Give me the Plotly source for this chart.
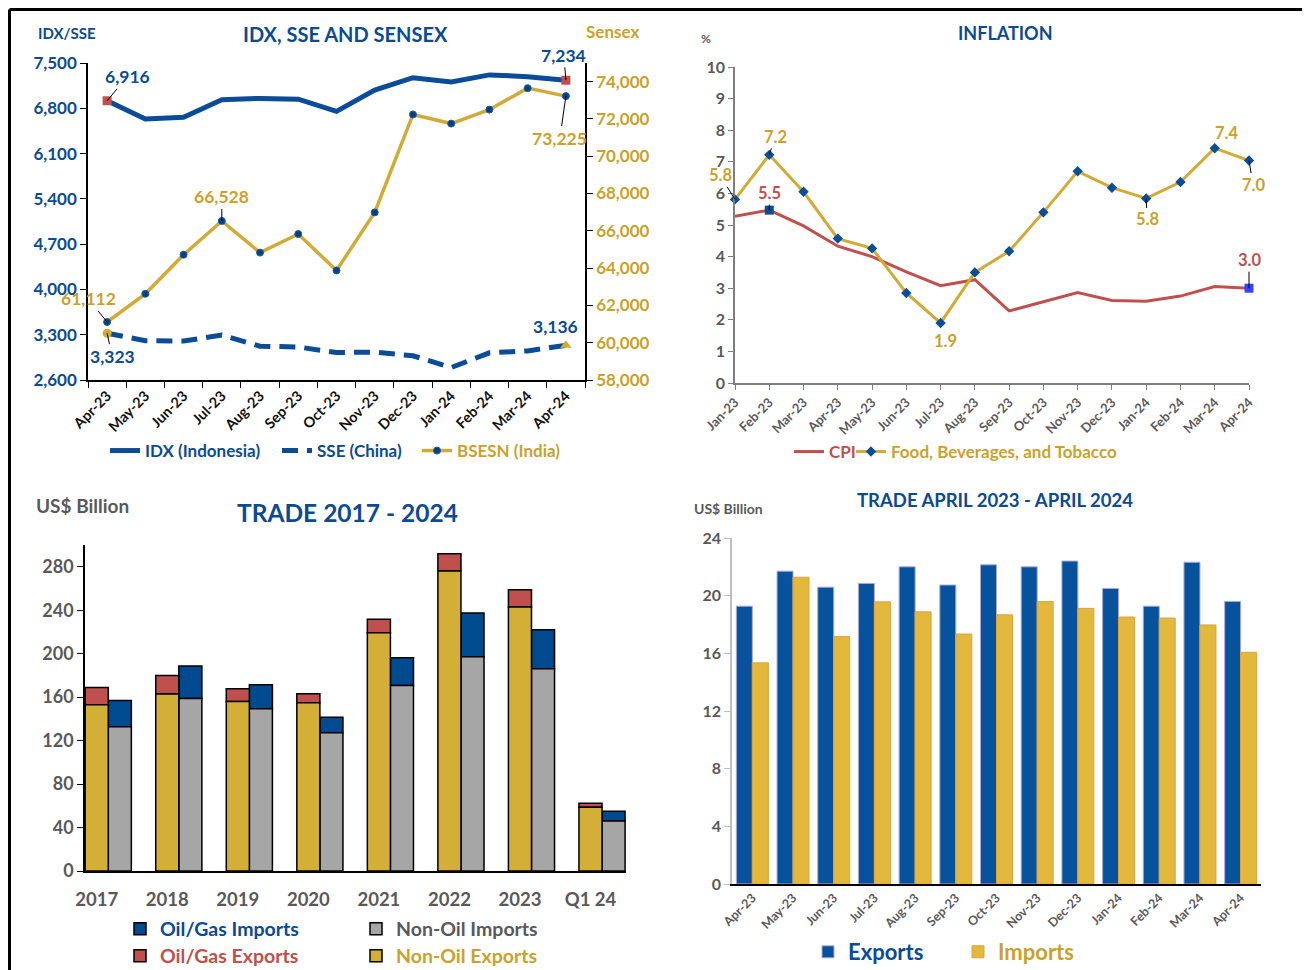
import plotly.graph_objects as go

# The page body has an 8px margin, so the figure is sized to fill the
# remaining window and positions below are given in window pixels.
OX, OY = 8, 8
W, H = 1302, 962
FONT = "Lato"

# ---------------- data ----------------
months1 = ["Apr-23", "May-23", "Jun-23", "Jul-23", "Aug-23", "Sep-23", "Oct-23",
           "Nov-23", "Dec-23", "Jan-24", "Feb-24", "Mar-24", "Apr-24"]
idx_vals = [6916, 6633, 6662, 6931, 6953, 6940, 6752, 7081, 7273, 7207, 7316, 7289, 7234]
sse_vals = [3323, 3207, 3202, 3294, 3123, 3110, 3025, 3030, 2975, 2792, 3020, 3050, 3136]
bsesn_vals = [61112, 62622, 64719, 66528, 64831, 65828, 63875, 66988, 72240, 71752, 72500, 73651, 73225]

months2 = ["Jan-23", "Feb-23", "Mar-23", "Apr-23", "May-23", "Jun-23", "Jul-23", "Aug-23",
           "Sep-23", "Oct-23", "Nov-23", "Dec-23", "Jan-24", "Feb-24", "Mar-24", "Apr-24"]
cpi_vals = [5.28, 5.47, 4.97, 4.33, 4.00, 3.52, 3.08, 3.27, 2.28, 2.56, 2.86, 2.61, 2.59, 2.75, 3.05, 3.00]
food_vals = [5.81, 7.22, 6.05, 4.57, 4.26, 2.85, 1.90, 3.50, 4.17, 5.40, 6.70, 6.18, 5.84, 6.36, 7.43, 7.04]

years = ["2017", "2018", "2019", "2020", "2021", "2022", "2023", "Q1 24"]
nonoil_exp = [153.1, 162.8, 155.9, 154.9, 219.3, 276.0, 242.9, 58.6]
oil_exp = [15.7, 17.2, 11.8, 8.3, 12.3, 16.0, 15.9, 3.8]
nonoil_imp = [132.7, 158.8, 149.4, 127.3, 170.7, 197.1, 186.1, 45.9]
oil_imp = [24.3, 29.9, 21.9, 14.3, 25.5, 40.4, 35.8, 9.0]

months4 = months1
exports_m = [19.27, 21.70, 20.59, 20.85, 22.00, 20.74, 22.14, 22.00, 22.40, 20.50, 19.27, 22.32, 19.60]
imports_m = [15.34, 21.28, 17.16, 19.57, 18.88, 17.34, 18.67, 19.59, 19.12, 18.52, 18.45, 17.97, 16.07]

# ---------------- colours ----------------
BLUE_T = "#0b4a94"
IDX_C = "#0a4c98"
GOLD = "#d2ab36"
GOLD_T = "#c9a22c"
NAVY_DOT = "#0b3f7a"
RED = "#c0504d"
GRAY_T = "#595959"
BAR_GOLD = "#d4af37"
BAR_RED = "#c0504d"
BAR_GRAY = "#a6a6a6"
BAR_BLUE = "#004a8f"
EXP_BLUE = "#07529d"
IMP_GOLD = "#e2b93d"


def px(x):
    return (x - OX) / W


def py(y):
    return 1 - (y - OY) / H


fig = go.Figure()

# ---------------- panel 1 ----------------
fig.add_trace(go.Scatter(x=months1, y=idx_vals, mode="lines", name="IDX (Indonesia)",
                         line=dict(color=IDX_C, width=5), xaxis="x", yaxis="y", legend="legend"))
fig.add_trace(go.Scatter(x=months1, y=sse_vals, mode="lines", name="SSE (China)",
                         line=dict(color=IDX_C, width=5, dash="16px,9px"), xaxis="x", yaxis="y",
                         legend="legend2"))
fig.add_trace(go.Scatter(x=months1, y=bsesn_vals, mode="lines+markers", name="BSESN (India)",
                         line=dict(color=GOLD, width=3.5),
                         marker=dict(color=NAVY_DOT, size=7, line=dict(color="#1a5fa8", width=1)),
                         xaxis="x", yaxis="y2", legend="legend3", cliponaxis=False))
fig.add_trace(go.Scatter(x=[months1[0], months1[-1]], y=[idx_vals[0], idx_vals[-1]], mode="markers",
                         marker=dict(symbol="square", color=RED, size=9), showlegend=False,
                         xaxis="x", yaxis="y", cliponaxis=False))
fig.add_trace(go.Scatter(x=[months1[0]], y=[sse_vals[0]], mode="markers",
                         marker=dict(symbol="circle", color=GOLD, size=9), showlegend=False,
                         xaxis="x", yaxis="y", cliponaxis=False))
fig.add_trace(go.Scatter(x=[months1[-1]], y=[sse_vals[-1]], mode="markers",
                         marker=dict(symbol="triangle-up", color=GOLD, size=10), showlegend=False,
                         xaxis="x", yaxis="y", cliponaxis=False))

# ---------------- panel 2 ----------------
fig.add_trace(go.Scatter(x=months2, y=cpi_vals, mode="lines", name="CPI",
                         line=dict(color=RED, width=3), xaxis="x2", yaxis="y3", legend="legend4"))
fig.add_trace(go.Scatter(x=months2, y=food_vals, mode="lines+markers", name="Food, Beverages, and Tobacco",
                         line=dict(color=GOLD, width=3),
                         marker=dict(symbol="diamond", color="#0a4f96", size=8),
                         xaxis="x2", yaxis="y3", legend="legend5", cliponaxis=False))
fig.add_trace(go.Scatter(x=[months2[1]], y=[cpi_vals[1]], mode="markers",
                         marker=dict(symbol="square", color="#0a4f96", size=9), showlegend=False,
                         xaxis="x2", yaxis="y3", cliponaxis=False))
fig.add_trace(go.Scatter(x=[months2[-1]], y=[cpi_vals[-1]], mode="markers",
                         marker=dict(symbol="square", color="#3344ff", size=9), showlegend=False,
                         xaxis="x2", yaxis="y3", cliponaxis=False))

# ---------------- panel 3 ----------------
bw3 = 0.327
xi3 = list(range(len(years)))
fig.add_trace(go.Bar(x=xi3, y=oil_imp, base=nonoil_imp, offset=0, width=bw3, name="Oil/Gas Imports",
                     marker=dict(color=BAR_BLUE, line=dict(color="black", width=1.5)),
                     xaxis="x3", yaxis="y4", legend="legend6"))
fig.add_trace(go.Bar(x=xi3, y=nonoil_imp, offset=0, width=bw3, name="Non-Oil Imports",
                     marker=dict(color=BAR_GRAY, line=dict(color="black", width=1.5)),
                     xaxis="x3", yaxis="y4", legend="legend7"))
fig.add_trace(go.Bar(x=xi3, y=oil_exp, base=nonoil_exp, offset=-bw3, width=bw3, name="Oil/Gas Exports",
                     marker=dict(color=BAR_RED, line=dict(color="black", width=1.5)),
                     xaxis="x3", yaxis="y4", legend="legend8"))
fig.add_trace(go.Bar(x=xi3, y=nonoil_exp, offset=-bw3, width=bw3, name="Non-Oil Exports",
                     marker=dict(color=BAR_GOLD, line=dict(color="black", width=1.5)),
                     xaxis="x3", yaxis="y4", legend="legend9"))

# ---------------- panel 4 ----------------
bw4 = 0.393
xi4 = list(range(len(months4)))
fig.add_trace(go.Bar(x=xi4, y=exports_m, offset=-bw4, width=bw4, name="Exports",
                     marker=dict(color=EXP_BLUE, line=dict(color="#a9a9d6", width=1)),
                     xaxis="x4", yaxis="y5", legend="legend10"))
fig.add_trace(go.Bar(x=xi4, y=imports_m, offset=0, width=bw4, name="Imports",
                     marker=dict(color=IMP_GOLD, line=dict(color="#e0a23a", width=1)),
                     xaxis="x4", yaxis="y5", legend="legend11"))

# ---------------- annotations ----------------
ann = []


def label(text, x, y, xref, yref, color, size, ax=None, ay=None, xs=0, ys=0):
    d = dict(text=text, x=x, y=y, xref=xref, yref=yref,
             font=dict(family=FONT, size=size, color=color, weight="bold"))
    if ax is None:
        d.update(showarrow=False, xshift=xs, yshift=ys)
    else:
        d.update(showarrow=True, arrowhead=0, arrowwidth=1, arrowcolor="black", ax=ax, ay=ay)
    ann.append(d)


def fmt(v):
    return f"{v:,.0f}"


# panel 1 labels
label(fmt(idx_vals[0]), months1[0], idx_vals[0], "x", "y", BLUE_T, 17.5, ax=20, ay=-24)
label(fmt(idx_vals[-1]), months1[-1], idx_vals[-1], "x", "y", BLUE_T, 17.5, ax=-2, ay=-25)
label(fmt(bsesn_vals[-1]), months1[-1], bsesn_vals[-1], "x", "y2", GOLD_T, 17.5, ax=-6, ay=42)
label(fmt(bsesn_vals[3]), months1[3], bsesn_vals[3], "x", "y2", GOLD_T, 17.5, ax=0, ay=-24)
label(fmt(bsesn_vals[0]), months1[0], bsesn_vals[0], "x", "y2", GOLD_T, 17.5, ax=-19, ay=-23)
label(fmt(sse_vals[0]), months1[0], sse_vals[0], "x", "y", BLUE_T, 17.5, ax=5, ay=23)
label(fmt(sse_vals[-1]), months1[-1], sse_vals[-1], "x", "y", BLUE_T, 17.5, xs=-10, ys=19)

# panel 2 labels
label(f"{food_vals[0]:.1f}", months2[0], food_vals[0], "x2", "y3", GOLD_T, 16.5, ax=-15, ay=-24)
label(f"{food_vals[1]:.1f}", months2[1], food_vals[1], "x2", "y3", GOLD_T, 16.5, ax=6, ay=-18)
label(f"{cpi_vals[1]:.1f}", months2[1], cpi_vals[1], "x2", "y3", RED, 16.5, ax=0, ay=-17)
label(f"{food_vals[6]:.1f}", months2[6], food_vals[6], "x2", "y3", GOLD_T, 16.5, xs=5, ys=-18)
label(f"{food_vals[12]:.1f}", months2[12], food_vals[12], "x2", "y3", GOLD_T, 16.5, ax=1, ay=21)
label(f"{food_vals[14]:.1f}", months2[14], food_vals[14], "x2", "y3", GOLD_T, 16.5, xs=12, ys=15)
label(f"{food_vals[15]:.1f}", months2[15], food_vals[15], "x2", "y3", GOLD_T, 16.5, ax=4, ay=24)
label(f"{cpi_vals[15]:.1f}", months2[15], cpi_vals[15], "x2", "y3", RED, 16.5, ax=0, ay=-28)


def ptext(text, x, y, color, size, xanchor="center"):
    ann.append(dict(text=text, x=px(x), y=py(y), xref="paper", yref="paper", showarrow=False,
                    xanchor=xanchor, yanchor="middle",
                    font=dict(family=FONT, size=size, color=color, weight="bold")))


ptext("IDX, SSE AND SENSEX", 345, 34, BLUE_T, 20)
ptext("IDX/SSE", 67, 33, BLUE_T, 15)
ptext("Sensex", 612, 31, GOLD_T, 17)
ptext("INFLATION", 1005, 33, BLUE_T, 18)
ptext("%", 706, 38, GRAY_T, 12)
ptext("TRADE 2017 - 2024", 347, 512, BLUE_T, 24.5)
ptext("US$ Billion", 82, 505, GRAY_T, 19)
ptext("TRADE APRIL 2023 - APRIL 2024", 995, 500, BLUE_T, 18.5)
ptext("US$ Billion", 728, 508, GRAY_T, 14)

# ---------------- layout ----------------
def lfont(color, size):
    return dict(family=FONT, size=size, color=color, weight="bold")


def legend_at(x, y, color, size):
    return dict(x=px(x), y=py(y), xanchor="left", yanchor="middle", orientation="h",
                font=lfont(color, size), bgcolor="rgba(0,0,0,0)", borderwidth=0,
                tracegroupgap=0, itemclick=False)


axis_common = dict(showgrid=False, zeroline=False)

fig.update_layout(
    width=W, height=H, margin=dict(l=0, r=0, t=0, b=0, autoexpand=False),
    paper_bgcolor="white", plot_bgcolor="white",
    barmode="overlay",
    font=dict(family=FONT),
    xaxis=dict(domain=[px(88), px(585)], anchor="y", type="category", range=[-0.5, 12.5],
               tickson="boundaries", ticks="outside", ticklen=6, tickcolor="black",
               showline=True, linecolor="black", linewidth=1.5, tickangle=-45,
               tickfont=lfont("#111111", 14.5), **axis_common),
    yaxis=dict(domain=[py(380), py(63)], anchor="x", range=[2600, 7500], tick0=2600, dtick=700,
               tickformat=",", ticks="outside", ticklen=6, tickcolor="black",
               showline=True, linecolor="black", linewidth=1.5,
               tickfont=lfont(BLUE_T, 17), **axis_common),
    yaxis2=dict(overlaying="y", side="right", anchor="x", range=[58000, 75000], tick0=58000, dtick=2000,
                tickformat=",", ticks="outside", ticklen=6, tickcolor="black",
                showline=True, linecolor="black", linewidth=1.5,
                tickfont=lfont(GOLD_T, 17), **axis_common),
    xaxis2=dict(domain=[px(735), px(1249)], anchor="y3", type="category", range=[0, 15],
                ticks="outside", ticklen=5, tickcolor="#7f7f7f",
                showline=True, linecolor="#7f7f7f", linewidth=1.5, tickangle=-45,
                tickfont=lfont(GRAY_T, 13), **axis_common),
    yaxis3=dict(domain=[py(383), py(67)], anchor="x2", range=[0, 10], dtick=1,
                ticks="outside", ticklen=5, tickcolor="#7f7f7f",
                showline=True, linecolor="#7f7f7f", linewidth=1.5,
                tickfont=lfont(GRAY_T, 16), **axis_common),
    xaxis3=dict(domain=[px(85), px(626)], anchor="y4", range=[-0.33, 7.34],
                tickvals=[i - bw3 / 2 for i in xi3], ticktext=years, ticks="",
                ticklabelstandoff=11,
                showline=True, linecolor="black", linewidth=2,
                tickfont=lfont(GRAY_T, 18.5), **axis_common),
    yaxis4=dict(domain=[py(871), py(545)], anchor="x3", range=[0, 300],
                tickvals=[0, 40, 80, 120, 160, 200, 240, 280],
                ticks="outside", ticklen=6, tickcolor="black",
                showline=True, linecolor="black", linewidth=1.5,
                tickfont=lfont(GRAY_T, 18), **axis_common),
    xaxis4=dict(domain=[px(732), px(1261)], anchor="y5", range=[-0.5, 12.5],
                tickvals=xi4, ticktext=months4, ticks="", tickangle=-45,
                showline=True, linecolor="black", linewidth=1.5,
                tickfont=lfont(GRAY_T, 12.5), **axis_common),
    yaxis5=dict(domain=[py(884), py(538)], anchor="x4", range=[0, 24], dtick=4,
                ticks="outside", ticklen=6, tickcolor="#bfbfbf",
                showline=True, linecolor="#bfbfbf", linewidth=1.5,
                tickfont=lfont(GRAY_T, 16), **axis_common),
    legend=legend_at(105, 451, BLUE_T, 17),
    legend2=legend_at(277, 451, BLUE_T, 17),
    legend3=legend_at(417, 451, GOLD_T, 17),
    legend4=legend_at(789, 452, RED, 17),
    legend5=legend_at(851, 452, GOLD_T, 17),
    legend6=legend_at(120, 929, BLUE_T, 19.5),
    legend7=legend_at(356, 929, GRAY_T, 19.5),
    legend8=legend_at(120, 956, RED, 19.5),
    legend9=legend_at(356, 956, GOLD_T, 19.5),
    legend10=legend_at(808, 952, BLUE_T, 22),
    legend11=legend_at(958, 952, GOLD_T, 22),
    annotations=ann,
    shapes=[
        dict(type="line", xref="paper", yref="paper", x0=px(9.5), x1=1, y0=py(9.5), y1=py(9.5),
             line=dict(color="black", width=3)),
        dict(type="line", xref="paper", yref="paper", x0=px(9.5), x1=px(9.5), y0=py(9.5), y1=0,
             line=dict(color="black", width=3)),
    ],
)

fig.write_html("out.html")
